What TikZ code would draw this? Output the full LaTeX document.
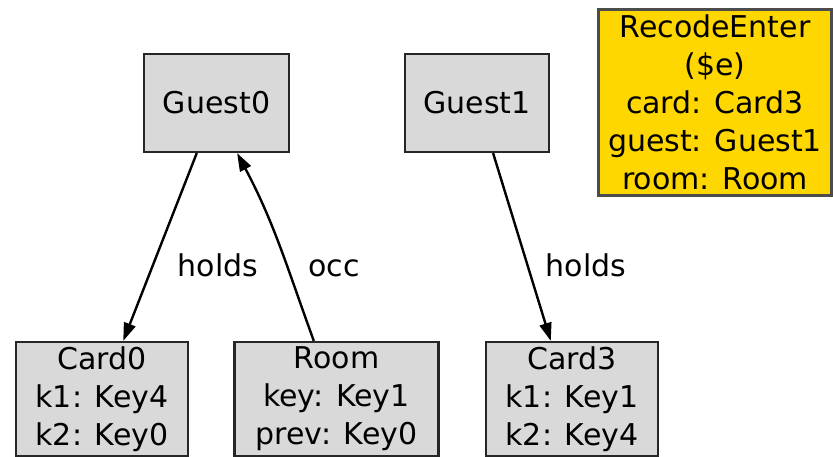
\documentclass[tikz,border=0pt]{standalone}
\usepackage{fontspec}
\setmainfont{DejaVu Sans}
\usetikzlibrary{arrows.meta,calc}
\definecolor{boxgray}{HTML}{D9D9D9}
\definecolor{evgold}{HTML}{FFD700}
\begin{document}
\begin{tikzpicture}[x=1pt,y=-1pt,
  every node/.style={font=\fontsize{30}{38}\selectfont, inner sep=0pt, align=center},
  atom/.style={draw=black!85, line width=2.2pt, fill=boxgray},
  event/.style={draw=black!70, line width=2.2pt, fill=evgold},
  rel/.style={line width=2.4pt, -{Triangle[length=18pt,width=12pt]}},
  lbl/.style={anchor=west}]
  \useasboundingbox (0,0) rectangle (833,457);

  % atoms
  \node[atom, minimum width=145pt, minimum height=98pt] (g0) at (216.5,103) {Guest0};
  \node[atom, minimum width=144pt, minimum height=98pt] (g1) at (477,103) {Guest1};
  \node[atom, minimum width=172pt, minimum height=114pt] (c0) at (102,399) {Card0\\k1: Key4\\k2: Key0};
  \node[atom, minimum width=204pt, minimum height=114pt] (rm) at (336.5,399) {Room\\key: Key1\\prev: Key0};
  \node[atom, minimum width=172pt, minimum height=114pt] (c3) at (572,399) {Card3\\k1: Key1\\k2: Key4};

  % event box
  \node[event, minimum width=233pt, minimum height=186pt] (ev) at (715,102.5)
    {RecodeEnter\\(\$e)\\card: Card3\\guest: Guest1\\room: Room};

  % relations
  \draw[rel] ($(g0.south west)!0.366!(g0.south east)$) -- ($(c0.north west)!0.622!(c0.north east)$)
    node[lbl, pos=0.6, xshift=24pt] {holds};
  \draw[rel] ($(rm.north west)!0.39!(rm.north east)$)
    to[out=110, in=-62] ($(g0.south west)!0.64!(g0.south east)$);
  \node[lbl] (occ) at (308,268) {occ};
  \draw[rel] ($(g1.south west)!0.61!(g1.south east)$) -- ($(c3.north west)!0.378!(c3.north east)$)
    node[lbl, pos=0.6, xshift=17pt] {holds};
\end{tikzpicture}
\end{document}
